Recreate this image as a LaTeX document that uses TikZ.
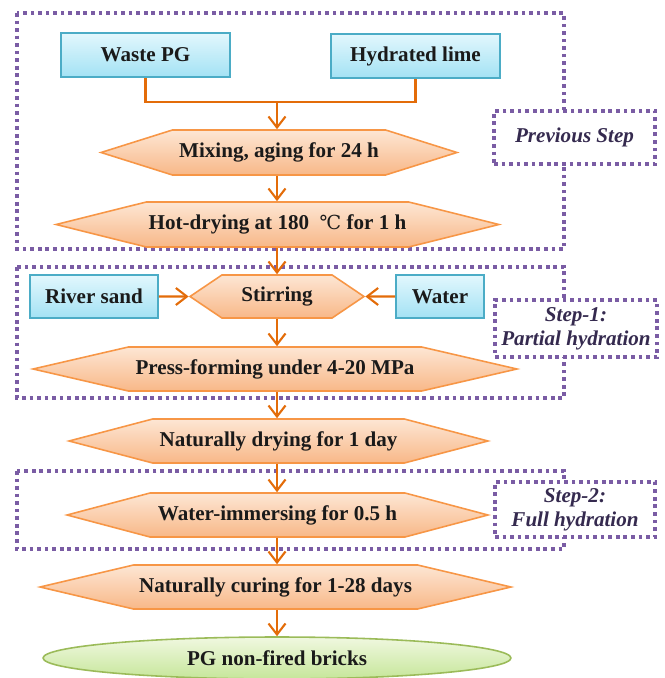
\documentclass[tikz,border=0pt]{standalone}
\usepackage{fontspec}
\setmainfont{Liberation Serif}
\newfontfamily\degfont{DejaVu Serif}
\usetikzlibrary{arrows.meta,positioning,shapes.geometric,shapes.symbols,calc}
\definecolor{rawedge}{HTML}{4BACC6}
\definecolor{rawtop}{HTML}{E2F7FD}
\definecolor{rawbot}{HTML}{A3E2F4}
\definecolor{procedge}{HTML}{F79646}
\definecolor{proctop}{HTML}{FDE6D4}
\definecolor{procbot}{HTML}{F8B888}
\definecolor{flowline}{HTML}{E36C09}
\definecolor{prodedge}{HTML}{9BBB59}
\definecolor{prodtop}{HTML}{F0F8E0}
\definecolor{prodbot}{HTML}{C6E69A}
\definecolor{framepurple}{HTML}{7A5CA4}
\definecolor{labeltext}{HTML}{352A4F}
\definecolor{maintext}{HTML}{1A1A1A}
\tikzset{
  rawbox/.style={draw=rawedge, line width=0.9pt, top color=rawtop, bottom color=rawbot, minimum height=0.88cm, inner sep=0pt, text=maintext, font=\fontsize{12}{14}\selectfont\bfseries},
  procstep/.style={signal, signal to=west and east, draw=procedge, line width=0.9pt, top color=proctop, bottom color=procbot, minimum height=0.88cm, inner sep=0pt, text=maintext, font=\fontsize{12}{14}\selectfont\bfseries},
  product/.style={draw=prodedge, ellipse, line width=0.9pt, top color=prodtop, bottom color=prodbot, minimum width=9.36cm, minimum height=0.84cm, inner sep=0pt, text=maintext, font=\fontsize{12}{14}\selectfont\bfseries},
  stepframe/.style={draw=framepurple, line width=2.1pt, dash pattern=on 2.1pt off 2.2pt},
  steplabel/.style={stepframe, fill=white, align=center, inner sep=0pt, text=labeltext, font=\fontsize{12}{13.5}\selectfont\bfseries\itshape},
  flow/.style={draw=flowline, line width=1.2pt, -{Straight Barb[length=2.2mm,width=3.4mm]}},
  flowjoin/.style={draw=flowline, line width=1.2pt}
}
\begin{document}
\begin{tikzpicture}[x=0.02cm,y=-0.02cm]
  \useasboundingbox (0,0) rectangle (664,678);
  % grouping frames
  \draw[stepframe] (17,13) rectangle (564,249);
  \draw[stepframe] (17,267) rectangle (564,398);
  \draw[stepframe] (17,471) rectangle (564,549);
  \node[steplabel, minimum width=3.22cm, minimum height=1.06cm] (prevlabel) at (574.5,137.5) {Previous Step};
  \node[steplabel, minimum width=3.24cm, minimum height=1.14cm] (onelabel) at (576,328.5) {Step-1:\\Partial hydration};
  \node[steplabel, minimum width=3.2cm, minimum height=1.1cm] (twolabel) at (575,509.5) {Step-2:\\Full hydration};
  % raw materials
  \node[rawbox, minimum width=3.38cm] (waste) at (145.5,55) {Waste PG};
  \node[rawbox, minimum width=3.38cm] (lime) at (415.5,56) {Hydrated lime};
  \node[rawbox, minimum width=2.56cm, minimum height=0.86cm] (sand) at (94,296.5) {River sand};
  \node[rawbox, minimum width=1.76cm, minimum height=0.86cm] (water) at (440,296.5) {Water};
  % process steps
  \node[procstep, minimum width=7.12cm, minimum height=0.9cm, signal pointer angle=35] (mixing) at (279,152.5) {Mixing, aging for 24 h};
  \node[procstep, minimum width=8.86cm, minimum height=0.9cm, signal pointer angle=28] (hotdry) at (277.5,224.5) {Hot-drying at 180 \ {\degfont\mdseries\fontsize{11}{13}\selectfont ℃} for 1 h};
  \node[procstep, minimum width=3.48cm, minimum height=0.86cm, signal pointer angle=68] (stirring) at (277,296.5) {Stirring};
  \node[procstep, minimum width=9.68cm, signal pointer angle=26] (press) at (275,369) {Press-forming under 4-20 MPa};
  \node[procstep, minimum width=8.38cm, signal pointer angle=29.5] (natdry) at (278.5,441) {Naturally drying for 1 day};
  \node[procstep, minimum width=8.42cm, signal pointer angle=29.7] (immerse) at (277.5,515) {Water-immersing for 0.5 h};
  \node[procstep, minimum width=9.42cm, signal pointer angle=26.5] (curing) at (275.5,587) {Naturally curing for 1-28 days};
  \node[product] (bricks) at (277,658) {PG non-fired bricks};
  % connectors
  \coordinate (join) at (277,102);
  \draw[flowjoin] (waste.south) |- (join) -| (lime.south);
  \draw[flow] (join) -- (join |- mixing.north);
  \draw[flow] (mixing.south -| join) -- (join |- hotdry.north);
  \draw[flow] (hotdry.south -| join) -- (stirring.north);
  \draw[flow] (sand) -- (stirring);
  \draw[flow] (water) -- (stirring);
  \draw[flow] (stirring.south) -- (stirring.south |- press.north);
  \draw[flow] (stirring.south |- press.south) -- (stirring.south |- natdry.north);
  \draw[flow] (stirring.south |- natdry.south) -- (stirring.south |- immerse.north);
  \draw[flow] (stirring.south |- immerse.south) -- (stirring.south |- curing.north);
  \draw[flow] (stirring.south |- curing.south) -- (bricks.north);
\end{tikzpicture}
\end{document}
